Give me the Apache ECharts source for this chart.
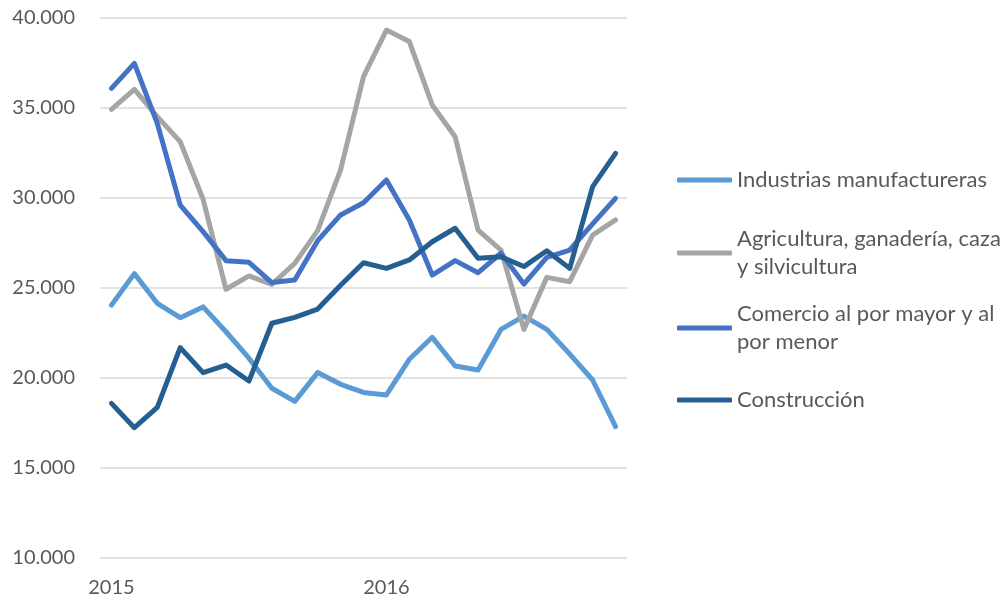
<!DOCTYPE html>
<html><head><meta charset="utf-8">
<script src="https://cdn.jsdelivr.net/npm/echarts@6/dist/echarts.min.js"></script>
<style>html,body{margin:0;padding:0;background:#fff}#c{width:1008px;height:601px}</style>
</head><body><div id="c"></div>
<script>
var months = ['2015-01','2015-02','2015-03','2015-04','2015-05','2015-06','2015-07','2015-08','2015-09','2015-10','2015-11','2015-12',
  '2016-01','2016-02','2016-03','2016-04','2016-05','2016-06','2016-07','2016-08','2016-09','2016-10','2016-11'];
var seriesNames = ['Industrias manufactureras','Agricultura, ganadería, caza y silvicultura','Comercio al por mayor y al por menor','Construcción'];
var legendLines = [['Industrias manufactureras'],['Agricultura, ganadería, caza','y silvicultura'],['Comercio al por mayor y al','por menor'],['Construcción']];
var industrias = [24050,25800,24150,23350,23950,22570,21100,19430,18700,20300,19650,19200,19060,21040,22260,20670,20440,22700,23440,22700,21330,19890,17300];
var agricultura = [34930,36040,34520,33130,29930,24930,25670,25200,26370,28190,31560,36740,39330,38690,35170,33400,28220,27110,22700,25590,25350,27940,28780];
var comercio = [36090,37480,34150,29610,28130,26520,26430,25300,25440,27630,29060,29740,31000,28780,25720,26520,25850,26930,25220,26700,27110,28560,29980];
var construccion = [18590,17240,18370,21690,20300,20720,19830,23040,23370,23830,25150,26400,26090,26560,27570,28320,26650,26740,26190,27070,26090,30630,32480];
var colors = ['#5B9BD5','#A5A5A5','#4472C4','#255E91'];
var yMin = 10000, yMax = 40000, yStep = 5000;

var FONT = 'Lato';
var FS = 20, LFS = 22, LH = 28;
var values = [industrias, agricultura, comercio, construccion];
var legendCenters = [180, 253, 328, 400];

var chart = echarts.init(document.getElementById('c'), null, {renderer:'canvas'});
var legends = seriesNames.map(function(n, i){
  var multi = legendLines[i].length > 1;
  var h = multi ? 3*LH : LH;
  return {
    show: true, orient:'vertical', left: 677, top: legendCenters[i] - h/2, padding: 0,
    data: [n], icon: 'roundRect', itemWidth: 55, itemHeight: 5, selectedMode: false,
    formatter: function(){ return legendLines[i].join('\n'); },
    textStyle: { fontFamily: FONT, fontSize: LFS, color: '#595959', lineHeight: LH, padding: multi ? [LH,0,0,0] : 0 }
  };
});
chart.setOption({
  animation: false,
  color: colors,
  grid: { left: 100, right: 381, top: 18, bottom: 43, containLabel: false },
  legend: legends,
  xAxis: {
    type: 'category', data: months, boundaryGap: true,
    axisLine: { show: false }, axisTick: { show: false },
    axisLabel: { interval: 0, margin: 20, fontFamily: FONT, fontSize: FS, color: '#595959',
      formatter: function(v){ return v.slice(5) === '01' ? v.slice(0,4) : ''; } }
  },
  yAxis: {
    type: 'value', min: yMin, max: yMax, interval: yStep,
    axisLine: { show: false }, axisTick: { show: false },
    splitLine: { lineStyle: { color: '#D9D9D9', width: 1.5 } },
    axisLabel: { margin: 25, fontFamily: FONT, fontSize: FS, color: '#595959',
      formatter: function(v){ return String(v/1000) + '.000'; } }
  },
  series: seriesNames.map(function(n, i){
    return { name: n, type: 'line', data: values[i], showSymbol: false, symbol: 'none',
      lineStyle: { color: colors[i], width: 5, cap: 'round', join: 'round' },
      itemStyle: { color: colors[i] } };
  })
});
</script></body></html>
